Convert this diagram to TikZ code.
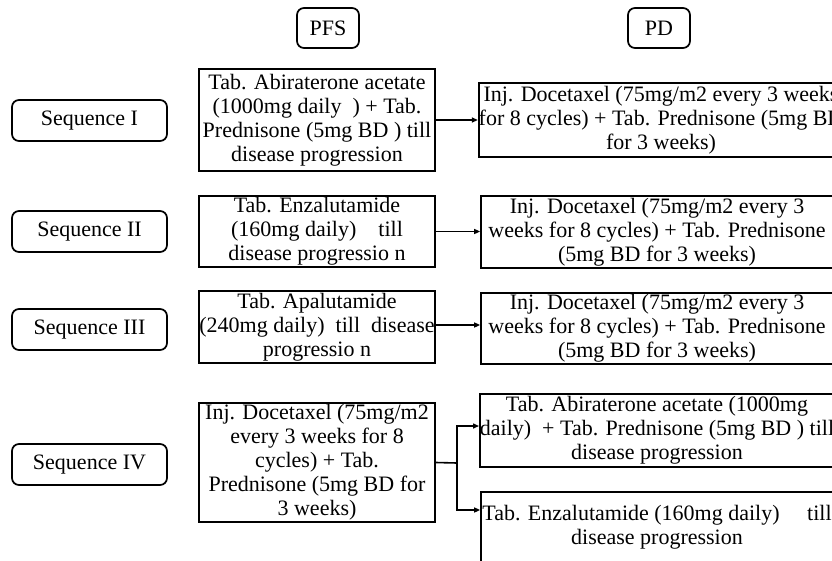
\documentclass[tikz,border=0pt]{standalone}
\usepackage{fontspec}
\setmainfont{Liberation Serif}
\usetikzlibrary{arrows.meta}
\begin{document}
\begin{tikzpicture}[x=1pt,y=-1pt,
  every node/.style={font=\fontsize{22}{24}\selectfont},
  hdr/.style={draw, rounded corners=7pt, line width=1.7pt, minimum width=62pt, minimum height=40pt, inner sep=0pt},
  seqbox/.style={draw, rounded corners=7pt, line width=1.7pt, minimum width=155pt, minimum height=41pt, inner sep=0pt},
  txtbox/.style={draw, line width=1.7pt, align=center, inner sep=0pt},
  conn/.style={line width=1.6pt},
  arr/.style={line width=1.4pt, -{Triangle[length=6pt,width=5pt]}}]
\useasboundingbox (0,0) rectangle (832,560);
% headers
\node[hdr] (pfs) at (328,28) {PFS};
\node[hdr] (pd) at (659,28) {PD};
% sequences
\node[seqbox] (s1) at (89.5,120.5) {Sequence I};
\node[seqbox] (s2) at (89.5,231.5) {Sequence II};
\node[seqbox] (s3) at (89.5,329.5) {Sequence III};
\node[seqbox] (s4) at (89.5,464.5) {Sequence IV};
% PFS column
\node[txtbox, minimum width=236pt, minimum height=102pt] (a1) at (317,120)
  {Tab. Abiraterone acetate\\(1000mg daily\ \ ) + Tab.\\Prednisone (5mg BD ) till\\disease progression};
\node[txtbox, minimum width=236pt, minimum height=71pt] (a2) at (317,231.5)
  {Tab. Enzalutamide\\(160mg daily)\quad till\\disease progressio n};
\node[txtbox, minimum width=236pt, minimum height=72pt] (a3) at (317,327)
  {Tab. Apalutamide\\(240mg daily)\ \ till\ \ disease\\progressio n};
\node[txtbox, minimum width=236pt, minimum height=119pt] (a4) at (317,462.5)
  {Inj. Docetaxel (75mg/m2\\every 3 weeks for 8\\cycles) + Tab.\\Prednisone (5mg BD for\\3 weeks)};
% PD column
\node[txtbox, minimum width=360pt, minimum height=74pt] (b1) at (661,120)
  {Inj. Docetaxel (75mg/m2 every 3 weeks\\for 8 cycles) + Tab. Prednisone (5mg BD\\for 3 weeks)};
\node[txtbox, minimum width=352pt, minimum height=72pt] (b2) at (657,232)
  {Inj. Docetaxel (75mg/m2 every 3\\weeks for 8 cycles) + Tab. Prednisone\\(5mg BD for 3 weeks)};
\node[txtbox, minimum width=352pt, minimum height=71pt] (b3) at (657,328.5)
  {Inj. Docetaxel (75mg/m2 every 3\\weeks for 8 cycles) + Tab. Prednisone\\(5mg BD for 3 weeks)};
\node[txtbox, minimum width=352pt, minimum height=73pt] (b4) at (657,430.5)
  {Tab. Abiraterone acetate (1000mg\\daily)\ \ + Tab. Prednisone (5mg BD ) till\\disease progression};
\node[txtbox, minimum width=352pt, minimum height=70pt] (b5) at (657,527)
  {Tab. Enzalutamide (160mg daily)\quad\ till\\disease progression};
% connectors
\draw[arr] (a1.east) -- (a1.east -| b1.west);
\draw[arr] (a2.east) -- (a2.east -| b2.west);
\draw[arr] ([yshift=2pt]a3.east) -- ([yshift=2pt]a3.east -| b3.west);
\coordinate (j) at (457,463);
\draw[conn] (a4.east) -- (j);
\draw[arr] (j) |- ([yshift=4.5pt]b4.west);
\draw[arr] (j) |- ([yshift=17pt]b5.west);
\end{tikzpicture}
\end{document}
